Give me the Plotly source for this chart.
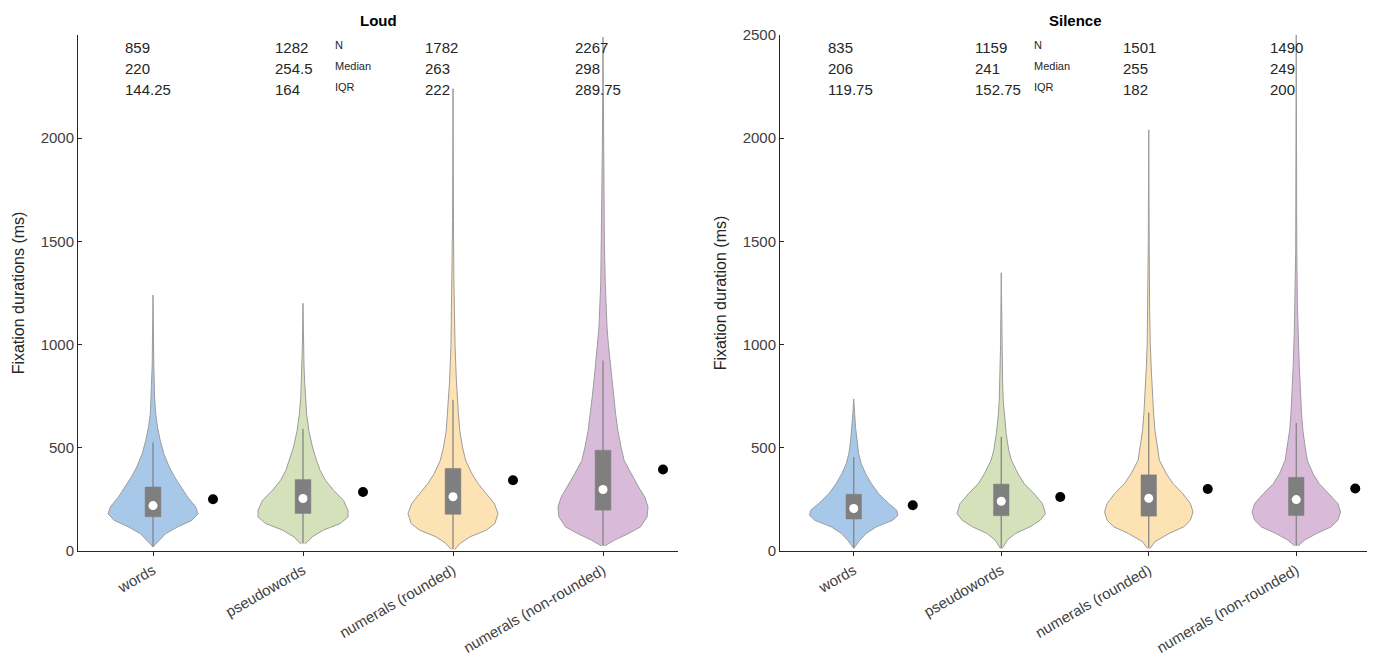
import plotly.graph_objects as go

# ---------------- data ----------------
categories = ["words", "pseudowords", "numerals (rounded)", "numerals (non-rounded)"]
cat_pos = [1, 2, 3, 4]

loud_N = [859, 1282, 1782, 2267]
loud_median = [220, 254.5, 263, 298]
loud_iqr = [144.25, 164, 222, 289.75]
loud_q1 = [166, 182, 178, 198]
loud_q3 = [310, 346, 400, 488]
loud_mean = [251, 286, 343, 395]
loud_whisk_hi = [526, 592, 733, 923]

silence_N = [835, 1159, 1501, 1490]
silence_median = [206, 241, 255, 249]
silence_iqr = [119.75, 152.75, 182, 200]
silence_q1 = [155, 171, 169, 172]
silence_q3 = [275, 324, 369, 357]
silence_mean = [222, 262, 300, 303]
silence_whisk_hi = [455, 553, 670, 620]

# violin outlines: y values (ms) and relative half-width (1 = widest)
loud_words_y = [20, 52, 84, 116, 148, 180, 213, 261, 310, 359, 407, 472, 536, 600, 665, 745, 900, 1100, 1240]
loud_words_w = [0, 0.14, 0.28, 0.54, 0.86, 1.0, 0.95, 0.77, 0.62, 0.48, 0.36, 0.24, 0.16, 0.1, 0.06, 0.035, 0.018, 0.008, 0]
loud_pseudo_y = [36, 40, 68, 101, 133, 165, 197, 245, 294, 342, 391, 439, 504, 584, 665, 745, 826, 900, 1000, 1200]
loud_pseudo_w = [0.04, 0.08, 0.2, 0.45, 0.83, 1.0, 1.0, 0.9, 0.68, 0.5, 0.38, 0.3, 0.21, 0.13, 0.08, 0.05, 0.035, 0.022, 0.013, 0]
loud_round_y = [8, 12, 37, 69, 101, 133, 181, 229, 278, 326, 374, 440, 504, 584, 665, 730, 826, 1000, 1100, 1300, 1600, 2240]
loud_round_w = [0.04, 0.06, 0.16, 0.38, 0.74, 0.93, 1.0, 0.92, 0.74, 0.56, 0.42, 0.28, 0.21, 0.15, 0.12, 0.1, 0.075, 0.045, 0.035, 0.02, 0.01, 0]
loud_nonr_y = [25, 30, 52, 84, 116, 165, 213, 261, 310, 374, 439, 504, 584, 665, 745, 826, 923, 1000, 1082, 1300, 1500, 2000, 2490]
loud_nonr_w = [0.04, 0.08, 0.25, 0.56, 0.83, 0.98, 1.0, 0.93, 0.79, 0.63, 0.47, 0.4, 0.33, 0.28, 0.24, 0.2, 0.16, 0.12, 0.09, 0.05, 0.03, 0.012, 0]

sil_words_y = [13, 53, 85, 117, 149, 173, 198, 230, 278, 326, 374, 423, 471, 536, 600, 665, 737]
sil_words_w = [0, 0.14, 0.28, 0.51, 0.88, 1.0, 0.97, 0.79, 0.56, 0.4, 0.27, 0.17, 0.11, 0.07, 0.04, 0.02, 0]
sil_pseudo_y = [13, 53, 85, 117, 149, 181, 230, 278, 326, 374, 440, 487, 570, 650, 730, 826, 1000, 1348]
sil_pseudo_w = [0.02, 0.14, 0.32, 0.65, 0.88, 1.0, 0.93, 0.74, 0.52, 0.38, 0.23, 0.17, 0.11, 0.07, 0.045, 0.03, 0.015, 0]
sil_round_y = [13, 45, 85, 117, 149, 189, 230, 278, 326, 374, 440, 504, 584, 665, 745, 890, 1000, 1165, 1500, 2040]
sil_round_w = [0.03, 0.14, 0.46, 0.79, 0.94, 1.0, 0.94, 0.77, 0.55, 0.4, 0.24, 0.19, 0.14, 0.11, 0.085, 0.055, 0.035, 0.02, 0.01, 0]
sil_nonr_y = [25, 53, 85, 117, 149, 189, 230, 278, 326, 374, 440, 504, 584, 665, 745, 890, 1051, 1200, 1454, 2000, 2500]
sil_nonr_w = [0.04, 0.19, 0.46, 0.79, 0.94, 1.0, 0.94, 0.74, 0.52, 0.38, 0.25, 0.2, 0.15, 0.12, 0.1, 0.07, 0.045, 0.025, 0.012, 0.006, 0]

colors = ["#a8c8e9", "#d4e1bb", "#fde3b3", "#d9bbd9"]

# ---------------- style ----------------
FONT = "Liberation Sans, Arial, Helvetica, sans-serif"
HALF_W = 0.3
BOX_W = 0.105
EDGE = "#9c9c9c"
BOXC = "#7f7f7f"
OFF = 8  # page body margin in px

fig = go.Figure()


def add_panel(xa, ya, profiles, q1, q3, med, mean, whi):
    for i, (py, pw) in enumerate(profiles):
        c = cat_pos[i]
        xs = [c + w * HALF_W for w in pw] + [c - w * HALF_W for w in reversed(pw)]
        ys = list(py) + list(reversed(py))
        fig.add_trace(go.Scatter(x=xs, y=ys, mode="lines", fill="toself",
                                 fillcolor=colors[i], line=dict(color=EDGE, width=1),
                                 xaxis=xa, yaxis=ya, showlegend=False, hoverinfo="skip"))
        # whisker line
        fig.add_trace(go.Scatter(x=[c, c], y=[py[0], whi[i]], mode="lines",
                                 line=dict(color=BOXC, width=1.2),
                                 xaxis=xa, yaxis=ya, showlegend=False, hoverinfo="skip"))
        # box (interquartile range)
        bx = [c - BOX_W / 2, c + BOX_W / 2, c + BOX_W / 2, c - BOX_W / 2, c - BOX_W / 2]
        by = [q1[i], q1[i], q3[i], q3[i], q1[i]]
        fig.add_trace(go.Scatter(x=bx, y=by, mode="lines", fill="toself", fillcolor=BOXC,
                                 line=dict(color=BOXC, width=0.5),
                                 xaxis=xa, yaxis=ya, showlegend=False, hoverinfo="skip"))
    # medians
    fig.add_trace(go.Scatter(x=cat_pos, y=med, mode="markers",
                             marker=dict(color="white", size=9, line=dict(width=0)),
                             xaxis=xa, yaxis=ya, showlegend=False))
    # means
    fig.add_trace(go.Scatter(x=[c + 0.4 for c in cat_pos], y=mean, mode="markers",
                             marker=dict(color="black", size=10, line=dict(width=0)),
                             xaxis=xa, yaxis=ya, showlegend=False))


add_panel("x", "y",
          [(loud_words_y, loud_words_w), (loud_pseudo_y, loud_pseudo_w),
           (loud_round_y, loud_round_w), (loud_nonr_y, loud_nonr_w)],
          loud_q1, loud_q3, loud_median, loud_mean, loud_whisk_hi)
add_panel("x2", "y2",
          [(sil_words_y, sil_words_w), (sil_pseudo_y, sil_pseudo_w),
           (sil_round_y, sil_round_w), (sil_nonr_y, sil_nonr_w)],
          silence_q1, silence_q3, silence_median, silence_mean, silence_whisk_hi)

# ---------------- text table ----------------
ann = []
row_y = [2440, 2338, 2237]
lab_y = [2452, 2350, 2249]


def fmt(v):
    return f"{v:g}"


def add_table(xref, yref, N, med, iqr, col_off, lab_x):
    for i, c in enumerate(cat_pos):
        for r, vals in enumerate([N, med, iqr]):
            ann.append(dict(x=c + col_off, y=row_y[r], xref=xref, yref=yref, text=fmt(vals[i]),
                            showarrow=False, xanchor="left", yanchor="middle",
                            font=dict(family=FONT, size=15, color="#262626")))
    for r, t in enumerate(["N", "Median", "IQR"]):
        ann.append(dict(x=lab_x, y=lab_y[r], xref=xref, yref=yref, text=t, showarrow=False,
                        xanchor="left", yanchor="middle",
                        font=dict(family=FONT, size=11, color="#262626")))


add_table("x", "y", loud_N, loud_median, loud_iqr, -0.2, 2.2)
add_table("x2", "y2", silence_N, silence_median, silence_iqr, -0.19, 2.21)

ann.append(dict(x=0.5, y=1.0, xref="x domain", yref="paper", text="<b>Loud</b>", showarrow=False,
                xanchor="center", yanchor="top", yshift=-2, font=dict(family=FONT, size=15, color="black")))
ann.append(dict(x=0.5, y=1.0, xref="x2 domain", yref="paper", text="<b>Silence</b>", showarrow=False,
                xanchor="center", yanchor="top", yshift=-2, font=dict(family=FONT, size=15, color="black")))

W, H = 1375, 661
ydom = [(H - (551 - OFF)) / H, (H - (35 - OFF)) / H]

axis_common = dict(showgrid=False, zeroline=False, showline=True, linecolor="#262626", linewidth=1,
                   tickfont=dict(family=FONT, size=15, color="#404040"), automargin=False)

fig.update_layout(
    width=W, height=H,
    margin=dict(l=0, r=0, t=0, b=0),
    plot_bgcolor="white", paper_bgcolor="white",
    showlegend=False,
    annotations=ann,
    xaxis=dict(domain=[(78 - OFF) / W, (678 - OFF) / W], range=[0.5, 4.5], tickvals=cat_pos,
               ticktext=categories, tickangle=-30, ticks="outside", ticklen=4, tickcolor="#262626",
               anchor="y", **axis_common),
    yaxis=dict(domain=ydom, range=[0, 2500], tickvals=[0, 500, 1000, 1500, 2000], ticks="inside",
               ticklen=4, tickcolor="#262626", anchor="x",
               title=dict(text="Fixation durations (ms)", standoff=12,
                          font=dict(family=FONT, size=16, color="#262626")), **axis_common),
    xaxis2=dict(domain=[(780 - OFF) / W, (1370 - OFF) / W], range=[0.5, 4.5], tickvals=cat_pos,
                ticktext=categories, tickangle=-30, ticks="outside", ticklen=4, tickcolor="#262626",
                anchor="y2", **axis_common),
    yaxis2=dict(domain=ydom, range=[0, 2500], tickvals=[0, 500, 1000, 1500, 2000, 2500], ticks="inside",
                ticklen=4, tickcolor="#262626", anchor="x2",
                title=dict(text="Fixation duration (ms)", standoff=12,
                           font=dict(family=FONT, size=16, color="#262626")), **axis_common),
)

fig.write_html("out.html")
